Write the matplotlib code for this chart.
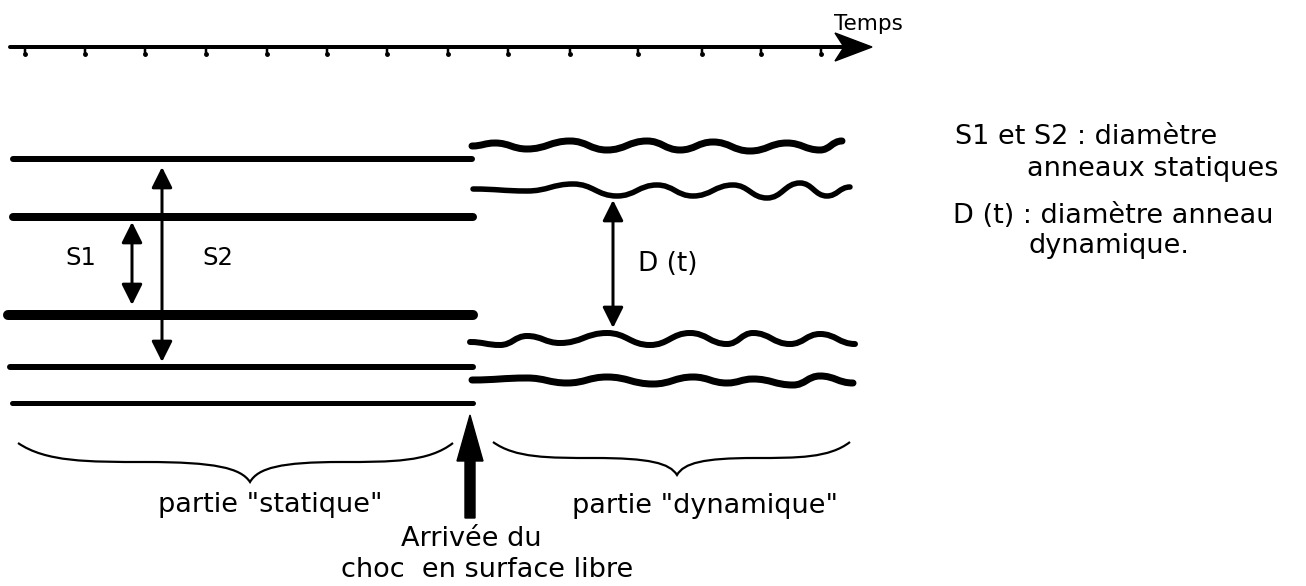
#Schematic: static vs dynamic rings (anneaux) along the time axis
import numpy as np
import matplotlib
matplotlib.use("Agg")
from matplotlib import pyplot as plt
from matplotlib.path import Path
from matplotlib.patches import PathPatch, Polygon, FancyArrow

# =============================================================================
# values (pixel units, y downwards)
time_ticks = [25, 85, 145, 206, 267, 327, 387, 448, 508, 570, 638, 702, 761, 821]

static_y = [159, 217, 315, 367, 403]
static_x0 = [13, 13, 8, 10, 12]
static_x1 = [472, 473, 473, 473, 473]
static_w = [6, 8, 10, 6, 5]

# wavy lines: successive crests / troughs
wave1_x = [472, 495, 527, 570, 607, 647, 680, 713, 750, 787, 820, 842]
wave1_y = [146, 143, 149, 141, 150, 141, 150, 142, 151, 143, 150, 141]
wave2_x = [473, 527, 573, 617, 657, 693, 733, 767, 800, 827, 850]
wave2_y = [189, 191, 184, 196, 185, 196, 185, 198, 183, 196, 187]
wave3_x = [470, 500, 527, 560, 607, 650, 690, 727, 753, 790, 820, 855]
wave3_y = [342, 345, 336, 343, 333, 345, 333, 344, 333, 344, 334, 344]
wave4_x = [472, 527, 567, 607, 653, 693, 727, 753, 793, 820, 853]
wave4_y = [380, 378, 383, 377, 384, 377, 383, 379, 385, 376, 383]
wave_w = [7, 5.5, 6, 7]

# double arrows (x, y_top, y_bottom)
arrows = {"S1": (132, 222, 305), "S2": (162, 167, 362), "D (t)": (613, 200, 328)}

labels = ["S1", "S2", "D (t)"]
label_pos = [(65, 265), (202, 265), (638, 271)]
label_fs = [17.5, 17.5, 19]

legend_lines = ["S1 et S2 : diamètre", "anneaux statiques",
                "D (t) : diamètre anneau", "dynamique."]
legend_pos = [(955, 144), (1027, 176), (953, 223), (1028, 253)]

bottom_texts = ['partie "statique"', 'partie "dynamique"', "Arrivée du", "choc  en surface libre"]
bottom_pos = [(270, 512), (705, 513), (471, 546), (487, 577)]

FS = 19.5
PX = 0.72   # points per pixel at dpi 100

# =============================================================================
fig = plt.figure(figsize=(13.06, 5.86), dpi=100)
ax = fig.add_axes([0, 0, 1, 1])
ax.set_xlim(0, 1306)
ax.set_ylim(586, 0)
ax.axis("off")

#time axis
ax.plot([10, 845], [47, 47], color="black", lw=4 * PX, solid_capstyle="round")
ax.vlines(time_ticks, 47, 54, color="black", lw=2.5 * PX)
ax.plot(time_ticks, [54] * len(time_ticks), "o", color="black", ms=2.5)
tip, head_len, head_half, notch = (872, 47), 37, 14, 9
ax.add_patch(Polygon([(tip[0] - head_len, tip[1] - head_half), tip,
                      (tip[0] - head_len, tip[1] + head_half),
                      (tip[0] - head_len + notch, tip[1])],
                     closed=True, color="black"))
ax.text(834, 30, "Temps", fontsize=15.5, ha="left", va="baseline")

#static rings
for y, x0, x1, w in zip(static_y, static_x0, static_x1, static_w):
    ax.plot([x0, x1], [y, y], color="black", lw=w * PX, solid_capstyle="round")

#dynamic rings: smooth curve through crests and troughs
def wavy(xs, ys, w):
    verts = [(xs[0], ys[0])]
    codes = [Path.MOVETO]
    for i in range(1, len(xs)):
        dx = xs[i] - xs[i - 1]
        verts += [(xs[i - 1] + 0.45 * dx, ys[i - 1]), (xs[i] - 0.45 * dx, ys[i]), (xs[i], ys[i])]
        codes += [Path.CURVE4] * 3
    ax.add_patch(PathPatch(Path(verts, codes), fill=False, lw=w * PX, capstyle="round"))

for xs, ys, w in zip([wave1_x, wave2_x, wave3_x, wave4_x],
                     [wave1_y, wave2_y, wave3_y, wave4_y], wave_w):
    wavy(xs, ys, w)

#double arrows
for name, (x, y0, y1) in arrows.items():
    ax.annotate("", xy=(x, y0), xytext=(x, y1),
                arrowprops=dict(arrowstyle="<|-|>,head_length=0.7,head_width=0.35",
                                lw=3 * PX, color="black", shrinkA=0, shrinkB=0,
                                mutation_scale=18))
for lab, (x, y), fs in zip(labels, label_pos, label_fs):
    ax.text(x, y, lab, fontsize=fs, ha="left", va="baseline")

#legend
for txt, (x, y) in zip(legend_lines, legend_pos):
    ax.text(x, y, txt, fontsize=FS, ha="left", va="baseline")

#braces
def brace(x0, x1, xt, y_end, y_flat, y_tip):
    L0 = xt - x0
    L1 = x1 - xt
    verts = [(x0, y_end),
             (x0 + 0.12 * L0, y_flat), (x0 + 0.3 * L0, y_flat), (x0 + 0.55 * L0, y_flat),
             (x0 + 0.85 * L0, y_flat), (xt - 0.04 * L0, y_flat + 0.3 * (y_tip - y_flat)), (xt, y_tip),
             (xt + 0.04 * L1, y_flat + 0.3 * (y_tip - y_flat)), (xt + 0.15 * L1, y_flat), (xt + 0.45 * L1, y_flat),
             (x1 - 0.3 * L1, y_flat), (x1 - 0.12 * L1, y_flat), (x1, y_end)]
    codes = [Path.MOVETO] + [Path.CURVE4] * 12
    ax.add_patch(PathPatch(Path(verts, codes), fill=False, lw=2.2 * PX))

brace(18, 453, 250, 443, 462, 482)
brace(493, 850, 677, 442, 458, 475)

#shock arrival arrow
ax.add_patch(FancyArrow(470, 518, 0, -103, width=10, head_width=26, head_length=46,
                        length_includes_head=True, color="black"))

for txt, (x, y) in zip(bottom_texts, bottom_pos):
    ax.text(x, y, txt, fontsize=FS, ha="center", va="baseline")

fig.savefig("out.png", dpi=100)
